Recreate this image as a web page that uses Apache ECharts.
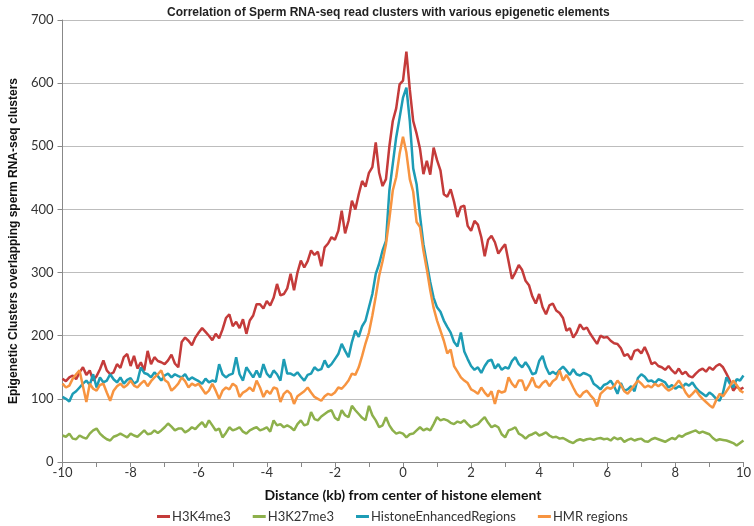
<!DOCTYPE html>
<html><head><meta charset="utf-8">
<script src="https://cdn.jsdelivr.net/npm/echarts@6/dist/echarts.min.js"></script>
<style>html,body{margin:0;padding:0;background:#fff}#c{width:754px;height:526px}</style>
</head><body><div id="c"></div>
<script>
const titleText = 'Correlation of Sperm RNA-seq read clusters with various epigenetic elements';
const xName = 'Distance (kb) from center of histone element';
const yName = 'Epigenetic Clusters overlapping sperm RNA-seq clusters';
const seriesNames = ['H3K4me3', 'H3K27me3', 'HistoneEnhancedRegions', 'HMR regions'];
const distanceStart = -10, distanceStep = 0.1;

const h3k4me3 = [
132,128,134,137,131,142,150,138,145,129,
136,147,161,145,139,142,155,149,166,171,
152,168,148,158,145,176,155,166,160,158,
155,161,170,156,150,190,197,192,185,197,
205,212,206,200,193,203,196,210,228,234,
215,222,212,226,203,224,232,250,250,243,
255,248,260,282,264,266,275,298,272,300,
319,308,318,335,328,333,310,340,346,356,
352,366,398,362,382,414,400,424,445,436,
458,467,506,458,437,448,500,540,560,598,
604,650,590,540,520,496,456,477,455,498,
478,462,424,420,432,412,388,404,406,374,
366,382,376,356,326,352,358,348,330,338,
345,318,290,300,312,304,287,280,262,251,
266,245,234,248,251,240,236,228,208,212,
197,205,218,210,213,203,195,187,200,197,
198,192,188,187,180,168,171,162,176,178,
172,182,170,155,158,152,150,146,152,145,
140,148,139,143,136,134,140,145,148,143,
150,146,152,155,150,140,129,113,120,115,
118];

const h3k27me3 = [
42,40,45,37,36,42,39,37,45,50,
53,45,40,36,34,40,42,45,42,39,
45,42,40,45,50,44,45,50,46,50,
55,61,56,50,53,53,47,50,55,52,
58,63,55,66,58,50,53,39,46,55,
50,52,55,48,45,50,53,55,50,52,
55,48,66,58,60,55,58,55,50,60,
66,58,60,79,68,66,72,76,80,82,
70,66,82,74,71,89,82,76,70,66,
89,74,66,55,58,71,58,50,45,47,
45,39,44,45,50,55,50,53,50,60,
71,66,68,66,62,60,64,62,66,60,
55,58,60,66,71,62,55,58,55,44,
39,50,52,55,45,42,37,42,44,47,
42,44,47,42,39,40,37,38,35,32,
30,34,36,34,36,37,35,37,38,36,
37,34,39,36,38,32,35,37,34,36,
37,33,32,36,38,36,34,32,35,38,
36,42,40,44,46,48,50,46,48,46,
44,38,34,36,35,34,32,30,26,30,
34];

const histoneEnhanced = [
103,100,96,108,112,118,124,129,122,139,
118,134,126,129,139,131,126,134,124,130,
133,124,128,150,141,139,134,142,136,129,
137,140,134,139,136,134,139,130,134,131,
128,124,132,126,129,127,155,139,134,138,
140,166,139,129,150,142,134,145,134,155,
140,134,145,139,129,163,140,140,137,142,
135,129,138,140,150,145,147,161,150,155,
163,171,187,176,166,190,208,198,215,224,
245,266,298,314,335,350,430,472,514,545,
577,593,540,465,440,390,345,315,285,260,
245,238,224,214,205,190,183,205,175,163,
152,146,150,141,152,160,162,148,155,146,
150,148,160,166,155,150,158,150,139,141,
160,168,150,139,143,139,146,151,145,138,
147,139,137,141,139,136,124,120,115,122,
124,129,120,108,125,113,115,120,112,133,
139,135,128,129,125,131,129,126,118,122,
116,120,118,124,121,126,118,112,108,104,
110,106,100,97,110,134,124,118,131,129,
137];

const hmrRegions = [
124,118,121,132,139,145,120,95,124,116,
113,122,124,110,97,113,120,124,118,122,
129,121,118,124,129,120,128,134,139,145,
130,126,113,118,124,134,128,118,124,121,
124,116,108,113,124,113,100,113,118,115,
124,120,103,110,113,118,112,129,118,103,
113,108,118,116,95,108,113,108,92,104,
108,112,118,110,103,100,97,104,108,106,
110,118,116,122,129,140,138,150,168,188,
205,232,262,295,318,345,385,430,451,488,
515,490,448,428,380,372,335,305,272,244,
224,208,192,172,178,152,143,134,129,125,
115,112,108,118,110,104,112,92,113,110,
112,134,124,118,129,129,113,122,134,120,
118,125,129,120,128,132,145,129,138,129,
118,108,103,110,113,106,100,88,108,113,
118,116,120,129,122,112,108,115,122,129,
124,118,121,118,124,120,124,118,113,116,
122,129,121,110,103,108,114,106,100,95,
90,86,98,108,104,112,120,129,122,113,
110];

const colors = ['#C43B3A', '#8DB04B', '#1D9CB5', '#F79440'];
const allValues = [h3k4me3, h3k27me3, histoneEnhanced, hmrRegions];

function toPairs(vals) {
  return vals.map((v, i) => [Math.round((distanceStart + i * distanceStep) * 10) / 10, v]);
}

const chart = echarts.init(document.getElementById('c'), null, {renderer: 'canvas'});
chart.setOption({
  animation: false,
  backgroundColor: '#fff',
  color: colors,
  title: {
    text: titleText, left: 162, top: 2,
    textStyle: {fontFamily: 'Liberation Sans', fontWeight: 'bold', fontSize: 12, color: '#222'}
  },
  grid: {left: 52, right: 9, top: 20, bottom: 64},
  legend: {
    bottom: -2, left: 152, itemWidth: 13, itemHeight: 3, itemGap: 22,
    icon: 'rect',
    textStyle: {fontFamily: 'Lato', fontSize: 13, color: '#333', padding: [0, 0, 0, -3]},
    data: seriesNames
  },
  xAxis: {
    type: 'value', min: -10, max: 10, interval: 1,
    name: xName, nameLocation: 'middle', nameGap: 26,
    nameTextStyle: {fontFamily: 'Lato', fontWeight: 'bold', fontSize: 14, color: '#111'},
    axisLine: {onZero: false, lineStyle: {color: '#888'}},
    axisTick: {show: true, length: 5, lineStyle: {color: '#888'}},
    axisLabel: {fontFamily: 'Lato', fontSize: 13, color: '#333', margin: 4,
      formatter: v => (Math.round(v) % 2 === 0 ? String(Math.round(v)) : '')},
    splitLine: {show: false}
  },
  yAxis: {
    type: 'value', min: 0, max: 700, interval: 100,
    name: yName, nameLocation: 'middle', nameGap: 36,
    nameTextStyle: {fontFamily: 'Liberation Sans', fontWeight: 'bold', fontSize: 12, color: '#111'},
    axisLine: {show: true, onZero: false, lineStyle: {color: '#888'}},
    axisTick: {show: true, length: 5, lineStyle: {color: '#888'}},
    axisLabel: {fontFamily: 'Lato', fontSize: 13, color: '#333', margin: 9},
    splitLine: {lineStyle: {color: '#bdbdbd', width: 1}}
  },
  series: seriesNames.map((n, k) => ({
    name: n, type: 'line', showSymbol: false, symbol: 'none',
    data: toPairs(allValues[k]),
    lineStyle: {width: 2.5, color: colors[k]},
    itemStyle: {color: colors[k]}
  }))
});
</script></body></html>
